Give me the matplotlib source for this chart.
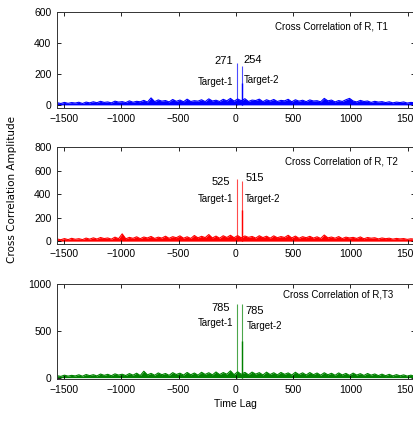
import numpy as np
import matplotlib
matplotlib.use('Agg')
import matplotlib.pyplot as plt

# noise floor of each cross correlation (one value every ~31 lags)
noise_t1 = [14, 9, 16, 10, 15, 12, 17, 9, 18, 13,
            20, 14, 23, 16, 19, 13, 24, 18, 21, 15,
            26, 17, 23, 20, 29, 18, 45, 21, 32, 24,
            28, 19, 35, 23, 31, 20, 37, 22, 27, 24,
            33, 21, 39, 25, 30, 22, 36, 26, 42, 24,
            38, 27, 40, 22, 31, 28, 37, 21, 33, 25,
            35, 22, 29, 26, 36, 20, 33, 24, 30, 21,
            32, 25, 27, 20, 42, 26, 31, 19, 28, 22,
            33, 42, 25, 19, 29, 22, 25, 16, 23, 18,
            21, 15, 20, 13, 18, 15, 19, 12, 16, 14]

noise_t2 = [18, 12, 22, 13, 24, 16, 21, 13, 26, 17,
            28, 18, 31, 22, 27, 17, 34, 21, 62, 20,
            32, 24, 37, 21, 35, 27, 40, 23, 34, 26,
            42, 24, 38, 29, 45, 25, 37, 23, 48, 28,
            41, 30, 56, 27, 43, 25, 46, 31, 50, 29,
            47, 28, 44, 32, 40, 26, 46, 30, 42, 25,
            45, 29, 39, 31, 50, 27, 43, 24, 38, 29,
            41, 26, 37, 23, 52, 28, 35, 25, 39, 22,
            34, 27, 32, 23, 36, 20, 31, 25, 29, 19,
            27, 21, 25, 17, 23, 19, 22, 15, 20, 17]

noise_t3 = [20, 13, 26, 16, 24, 18, 30, 15, 33, 21,
            31, 18, 38, 24, 35, 20, 40, 27, 36, 22,
            43, 26, 47, 22, 68, 29, 45, 25, 50, 31,
            44, 24, 53, 33, 47, 27, 55, 30, 49, 26,
            57, 34, 52, 29, 60, 32, 54, 36, 72, 31,
            62, 35, 56, 30, 59, 37, 53, 28, 58, 33,
            52, 29, 55, 35, 50, 27, 57, 32, 51, 28,
            54, 31, 49, 26, 52, 30, 46, 25, 50, 28,
            45, 24, 48, 27, 42, 23, 44, 26, 39, 21,
            37, 20, 35, 18, 32, 19, 29, 16, 26, 15]

# target peaks: lag and height of the two echoes (+ the sample next to target-2)
peak_lags = [6, 50, 53]
peaks_t1 = [271, 254, 140]
peaks_t2 = [525, 515, 262]
peaks_t3 = [785, 785, 390]

titles = ['Cross Correlation of R, T1', 'Cross Correlation of R, T2', 'Cross Correlation of R,T3']
colors = ['#0000ff', '#ff0000', '#008000']
yticks = [[0, 200, 400, 600], [0, 200, 400, 600, 800], [0, 500, 1000]]
ymax = [600, 800, 1000]
xticks = [-1500, -1000, -500, 0, 500, 1000, 1500]

plt.rcParams['font.family'] = ['Liberation Sans', 'DejaVu Sans']
plt.rcParams['font.size'] = 7.5

fig = plt.figure(figsize=(4.14, 4.21), dpi=100)

# axes boxes in figure fractions: [left, bottom, width, height]
boxes = [[0.1377, 0.7435, 0.864, 0.228],
         [0.1377, 0.4216, 0.864, 0.2292],
         [0.1377, 0.0986, 0.864, 0.2268]]

# per-panel text placement (lag, value) for the numbers and target names
num_pos = [[(-22, 284), (66, 290)], [(-48, 502), (83, 536)], [(-48, 742), (83, 710)]]
tgt_pos = [[(-22, 148), (66, 161)], [(-22, 357), (74, 357)], [(-22, 580), (92, 548)]]
title_pos = [(0.924, 0.844), (0.952, 0.855), (0.941, 0.885)]

noises = [noise_t1, noise_t2, noise_t3]
peaks = [peaks_t1, peaks_t2, peaks_t3]

for k in range(3):
    ax = fig.add_axes(boxes[k])
    noise = np.array(noises[k])
    lags = np.linspace(-1560, 1560, len(noise))
    c = colors[k]

    ax.fill_between(lags, 0, noise, color=c, lw=0)
    ax.plot(lags, noise, color=c, lw=0.8)
    # light thin lines for the two peaks, darker one for the neighbour sample
    ax.vlines(peak_lags[:2], 0, peaks[k][:2], color=c, lw=0.8, alpha=0.7)
    ax.vlines(peak_lags[2], 0, peaks[k][2], color=c, lw=1.0)

    ax.set_xlim(-1562, 1562)
    ax.set_ylim(-20, ymax[k])
    ax.set_xticks(xticks)
    ax.set_yticks(yticks[k])
    ax.tick_params(direction='in', length=3, width=0.6, top=True, right=True,
                   labelsize=7.5, pad=4)
    for s in ax.spines.values():
        s.set_linewidth(0.7)
        s.set_color('#333333')

    ax.text(title_pos[k][0], title_pos[k][1], titles[k], transform=ax.transAxes,
            ha='right', va='center', fontsize=7)
    ax.text(num_pos[k][0][0], num_pos[k][0][1], str(peaks[k][0]), ha='right', va='center', fontsize=8)
    ax.text(num_pos[k][1][0], num_pos[k][1][1], str(peaks[k][1]), ha='left', va='center', fontsize=8)
    ax.text(tgt_pos[k][0][0], tgt_pos[k][0][1], 'Target-1', ha='right', va='center', fontsize=7)
    ax.text(tgt_pos[k][1][0], tgt_pos[k][1][1], 'Target-2', ha='left', va='center', fontsize=7)

    if k == 2:
        ax.set_xlabel('Time Lag', fontsize=7.5, labelpad=3)

fig.text(0.029, 0.551, 'Cross Correlation Amplitude', rotation=90, ha='center', va='center',
         fontsize=7.5, family='DejaVu Sans')

fig.savefig('out.png', dpi=100)
